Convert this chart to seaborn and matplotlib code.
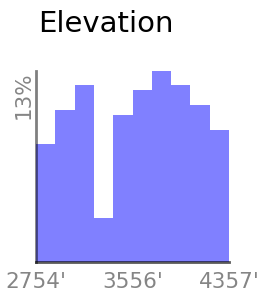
import numpy as np
import pandas as pd
import matplotlib.pyplot as plt
import seaborn as sns

# --- data --------------------------------------------------------------------
bins = ["b1", "b2", "b3", "b4", "b5", "b6", "b7", "b8", "b9", "b10"]
percent = [8.0, 10.35, 12.05, 3.0, 10.0, 11.7, 13.0, 12.05, 10.7, 9.0]
tick_labels = ["2754'", "3556'", "4357'"]
y_max_label = "13%"
title = "Elevation"

BAR_COLOR = "#8080ff"
TEXT_GRAY = "#858585"

if __name__ == "__main__":
    plt.switch_backend('Agg')
    sns.set_style("white")
    plt.rcParams['font.family'] = ['DejaVu Sans']

    df = pd.DataFrame({"bin": bins, "percent": percent})

    fig = plt.figure(figsize=(2.6, 2.97), dpi=100)
    ax = fig.add_axes([36 / 260, 35 / 297, 193 / 260, 191 / 297])
    sns.barplot(data=df, x="bin", y="percent", order=bins, color=BAR_COLOR,
                saturation=1, width=1.0, linewidth=0, ax=ax)

    ax.set_xlim(-0.5, len(bins) - 0.5)
    ax.set_ylim(0, max(percent))
    ax.set_xlabel('')
    ax.set_ylabel('')

    ax.set_xticks([-0.5, (len(bins) - 1) / 2, len(bins) - 0.5])
    ax.set_xticklabels(tick_labels, color=TEXT_GRAY, fontsize=15.5)
    ax.set_yticks([max(percent)])
    ax.set_yticklabels([y_max_label], color=TEXT_GRAY, fontsize=15.5,
                       rotation=90, va='top')
    ax.tick_params(axis='x', length=0, pad=7.5)
    ax.tick_params(axis='y', length=0, pad=2)

    for side in ['top', 'right']:
        ax.spines[side].set_visible(False)
    ax.spines['left'].set_color((0, 0, 0, 0.5))
    ax.spines['left'].set_linewidth(2)
    ax.spines['bottom'].set_color((0, 0, 0, 0.65))
    ax.spines['bottom'].set_linewidth(2)

    fig.text(38 / 260, 1 - 32 / 297, title, fontsize=21, color='black',
             ha='left', va='baseline')

    fig.savefig("out.png", dpi=100)
    plt.close(fig)
